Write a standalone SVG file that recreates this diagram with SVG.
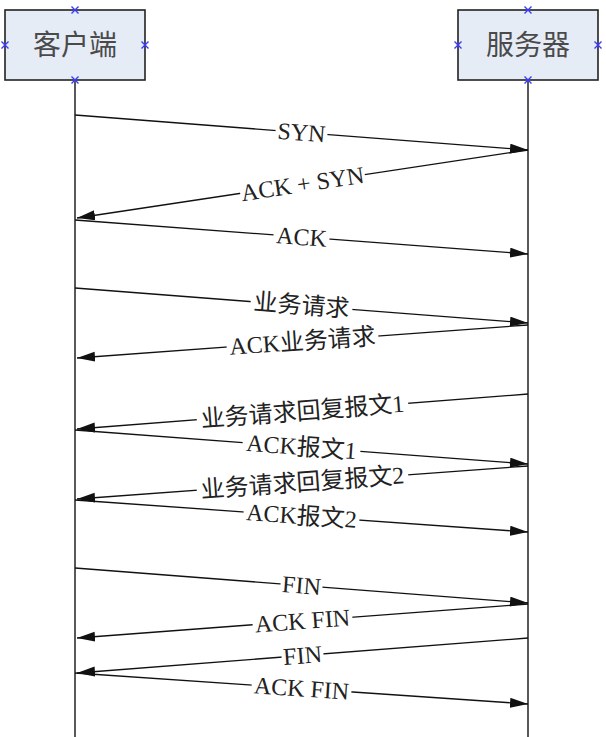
<svg xmlns="http://www.w3.org/2000/svg" width="606" height="737" viewBox="0 0 606 737">
<style>
.box{fill:#e6ecf6;stroke:#222;stroke-width:1.6}
.title{font-family:"Noto Sans CJK SC","Liberation Sans",sans-serif;font-size:28px;fill:#4a4a4a;text-anchor:middle}
.life{stroke:#222;stroke-width:1.5}
.msg{stroke:#111;stroke-width:1.3;fill:none;marker-end:url(#ah)}
.lbg{fill:#fff}
.lbl{font-family:"Liberation Serif","Noto Sans CJK SC",serif;font-size:24px;fill:#222;text-anchor:middle}
.x{stroke:#3a3aff;stroke-width:1.4}
</style>
<defs>
<marker id="ah" markerUnits="userSpaceOnUse" markerWidth="20" markerHeight="12" refX="18" refY="5" orient="auto">
<path d="M0,0 L18,5 L0,10 Z" fill="#111"/>
</marker>
<path id="xm" d="M-3.5,-3.5 L3.5,3.5 M-3.5,3.5 L3.5,-3.5"/>
</defs>
<g id="lifelines">
<line class="life" x1="75" y1="80" x2="75" y2="737"/>
<line class="life" x1="528" y1="80" x2="528" y2="737"/>
</g>
<g id="client">
<rect class="box" x="5" y="10" width="140" height="70"/>
<text class="title" x="75" y="55">客户端</text>
<g class="x"><use href="#xm" x="75" y="10"/><use href="#xm" x="5" y="45"/><use href="#xm" x="145" y="45"/><use href="#xm" x="75" y="80"/></g>
</g>
<g id="server">
<rect class="box" x="458" y="10" width="140" height="70"/>
<text class="title" x="528" y="55">服务器</text>
<g class="x"><use href="#xm" x="528" y="10"/><use href="#xm" x="458" y="45"/><use href="#xm" x="598" y="45"/><use href="#xm" x="528" y="80"/></g>
</g>
<g id="connectors">
<line class="msg" x1="75" y1="115" x2="528" y2="150"/>
<line class="msg" x1="528" y1="150" x2="77" y2="218"/>
<line class="msg" x1="75" y1="220" x2="528" y2="254"/>
<line class="msg" x1="75" y1="288" x2="528" y2="323"/>
<line class="msg" x1="528" y1="325" x2="77" y2="358"/>
<line class="msg" x1="528" y1="394" x2="77" y2="429"/>
<line class="msg" x1="75" y1="430" x2="528" y2="464"/>
<line class="msg" x1="528" y1="466" x2="77" y2="499"/>
<line class="msg" x1="75" y1="500" x2="528" y2="532"/>
<line class="msg" x1="75" y1="568" x2="528" y2="603"/>
<line class="msg" x1="528" y1="604" x2="77" y2="638"/>
<line class="msg" x1="528" y1="638" x2="77" y2="673"/>
<line class="msg" x1="75" y1="673" x2="528" y2="704"/>
</g>
<g id="labels">
<g transform="translate(301.5,132.5) rotate(4.42)"><rect class="lbg" x="-26" y="-9" width="52" height="18"/><text class="lbl" y="8">SYN</text></g>
<g transform="translate(302.5,184) rotate(-8.57)"><rect class="lbg" x="-63" y="-9" width="126" height="18"/><text class="lbl" y="8">ACK + SYN</text></g>
<g transform="translate(301.5,237) rotate(4.29)"><rect class="lbg" x="-28" y="-9" width="56" height="18"/><text class="lbl" y="8">ACK</text></g>
<g transform="translate(301.5,305.5) rotate(4.42)"><rect class="lbg" x="-51" y="-9" width="102" height="18"/><text class="lbl" y="8">业务请求</text></g>
<g transform="translate(302.5,341.5) rotate(-4.18)"><rect class="lbg" x="-76" y="-9" width="152" height="18"/><text class="lbl" y="8">ACK业务请求</text></g>
<g transform="translate(302.5,411.5) rotate(-4.44)"><rect class="lbg" x="-106" y="-9" width="212" height="18"/><text class="lbl" y="8">业务请求回复报文1</text></g>
<g transform="translate(301.5,447) rotate(4.29)"><rect class="lbg" x="-59" y="-9" width="118" height="18"/><text class="lbl" y="8">ACK报文1</text></g>
<g transform="translate(302.5,482.5) rotate(-4.18)"><rect class="lbg" x="-106" y="-9" width="212" height="18"/><text class="lbl" y="8">业务请求回复报文2</text></g>
<g transform="translate(301.5,516) rotate(4.04)"><rect class="lbg" x="-58" y="-9" width="116" height="18"/><text class="lbl" y="8">ACK报文2</text></g>
<g transform="translate(301.5,585.5) rotate(4.42)"><rect class="lbg" x="-21" y="-9" width="42" height="18"/><text class="lbl" y="8">FIN</text></g>
<g transform="translate(302.5,621) rotate(-4.31)"><rect class="lbg" x="-50" y="-9" width="100" height="18"/><text class="lbl" y="8">ACK FIN</text></g>
<g transform="translate(302.5,655.5) rotate(-4.44)"><rect class="lbg" x="-21" y="-9" width="42" height="18"/><text class="lbl" y="8">FIN</text></g>
<g transform="translate(301.5,688.5) rotate(3.91)"><rect class="lbg" x="-50" y="-9" width="100" height="18"/><text class="lbl" y="8">ACK FIN</text></g>
</g>
</svg>
